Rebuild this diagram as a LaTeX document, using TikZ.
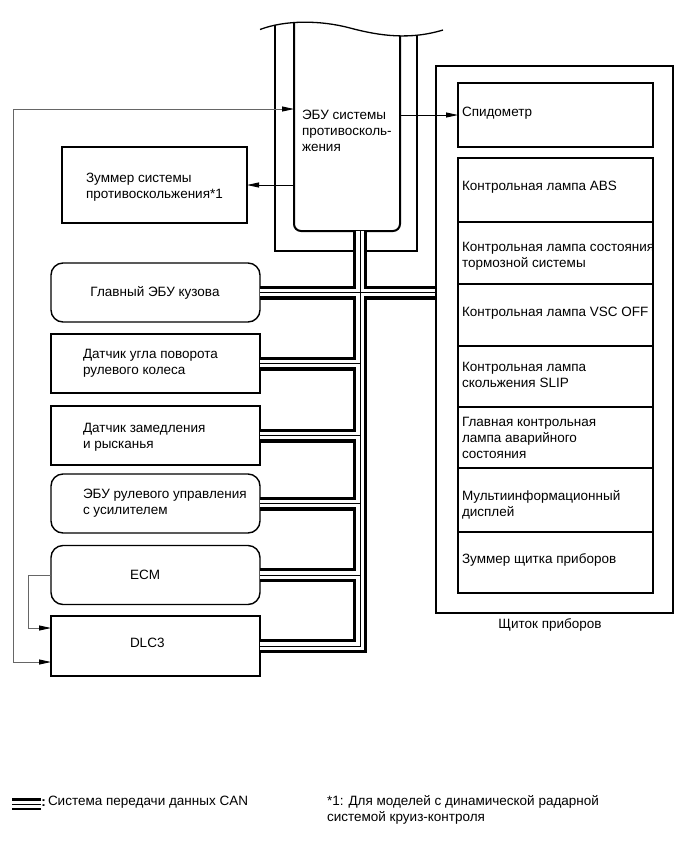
\documentclass[tikz,border=0pt]{standalone}
\usepackage{fontspec}
\setmainfont{Liberation Sans}
\usetikzlibrary{arrows.meta,calc}
\begin{document}
\begin{tikzpicture}[x=1pt,y=-1pt,
  every node/.style={inner sep=0pt, outer sep=0pt, font=\fontsize{13.5}{16}\selectfont},
  box/.style={draw, line width=1.4pt, minimum width=209pt, minimum height=59pt},
  rbox/.style={box, rounded corners=12pt},
  lamp/.style={draw, line width=1.3pt, minimum width=195pt},
  txt/.style={anchor=west, align=left},
  conn/.style={line width=0.9pt},
  tipk/.style={-{Triangle[length=12pt,width=5pt,color=black]}},
  tipboth/.style={{Triangle[length=12pt,width=5pt,color=black]}-{Triangle[length=12pt,width=5pt,color=black]}},
]
\useasboundingbox (0,0) rectangle (690,855);

% left boxes
\node[rbox] (gbody) at (155.5,292.5) {};
\node[box] (steer) at (155.5,363.5) {};
\node[box] (yaw) at (155.5,435.5) {};
\node[rbox] (eps) at (155.5,503.5) {};
\node[rbox] (ecm) at (155.5,575) {};
\node[box, minimum height=60pt] (dlc) at (155.5,646) {};
\node[box, minimum width=185pt, minimum height=76pt] (buzzer) at (154.5,185) {};

% cluster
\node[draw, line width=1.3pt, minimum width=237pt, minimum height=547pt] (cluster) at (554.5,339.5) {};
\node[lamp, minimum height=64pt] (speedo) at (555.5,115) {};
\node[lamp, minimum height=64pt] (l1) at (555.5,190) {};
\node[lamp, minimum height=62pt] (l2) at (555.5,253) {};
\node[lamp, minimum height=62pt] (l3) at (555.5,315) {};
\node[lamp, minimum height=61pt] (l4) at (555.5,376.5) {};
\node[lamp, minimum height=61pt] (l5) at (555.5,437.5) {};
\node[lamp, minimum height=64pt] (l6) at (555.5,500) {};
\node[lamp, minimum height=61pt] (l7) at (555.5,562.5) {};

% ECU
\node[minimum width=106pt, minimum height=191pt] (ecu) at (347,135.5) {};
\begin{scope}
  \clip (260,29.5) .. controls (285,20) and (320,20) .. (350,28) .. controls (380,36) and (410,40) .. (443,30) -- (443,300) -- (260,300) -- cycle;
  \draw[line width=2pt] (275,0) |- (417,251) -- (417,0);
  \draw[line width=2pt, rounded corners=7pt] (294,0) |- (400,231) -- (400,0);
\end{scope}
\draw[line width=1.3pt] (260,29.5) .. controls (285,20) and (320,20) .. (350,28) .. controls (380,36) and (410,40) .. (443,30);

% texts
\node[txt] (ecut) at (302,131) {ЭБУ системы\\противосколь-\\жения};
\node[txt] (buzt) at (86,187.5) {Зуммер системы\\противоскольжения*1};
\node[txt] (spt) at (462,113) {Спидометр};
\node[txt] (l1t) at (462,187) {Контрольная лампа ABS};
\node[txt] (l2t) at (462,256.5) {Контрольная лампа состояния\\тормозной системы};
\node[txt] (l3t) at (462,313) {Контрольная лампа VSC OFF};
\node[txt] (l4t) at (462,375) {Контрольная лампа\\скольжения SLIP};
\node[txt] (l5t) at (462,437.5) {Главная контрольная\\лампа аварийного\\состояния};
\node[txt] (l6t) at (462,505) {Мультиинформационный\\дисплей};
\node[txt] (l7t) at (462,560) {Зуммер щитка приборов};
\node (gbt) at (155,293) {Главный ЭБУ кузова};
\node[txt] (stt) at (83,363) {Датчик угла поворота\\рулевого колеса};
\node[txt] (yawt) at (83,437) {Датчик замедления\\и рысканья};
\node[txt] (epst) at (83,503) {ЭБУ рулевого управления\\с усилителем};
\node[txt] (ecmt) at (130,575) {ECM};
\node[txt] (dlct) at (130,643) {DLC3};
\node (clabel) at (550,625) {Щиток приборов};

% CAN bus
\coordinate (bt) at (360,231);
\def\canbus{(bt) -- (bt |- dlc.east) -- (dlc.east)
  (gbody.east) -- (cluster.west |- gbody.east)
  (steer.east) -- (bt |- steer.east)
  (yaw.east) -- (bt |- yaw.east)
  (eps.east) -- (bt |- eps.east)
  (ecm.east) -- (bt |- ecm.east)}
\draw[line width=14pt] \canbus;
\draw[line width=7.4pt, white] \canbus;
\draw[line width=0.9pt] \canbus;
\draw[line width=1.3pt] (cluster.north west) -- (cluster.south west);

% connectors
\draw[conn, black!60, tipboth] ([yshift=26.5pt]ecu.west) -- ++(-281,0) |- ([yshift=-16pt]dlc.west);
\draw[conn, tipk] (ecu.east |- speedo.west) -- (speedo.west);
\draw[conn, tipk] (ecu.west |- buzzer.east) -- (buzzer.east);
\draw[conn, black!60, tipk] (ecm.west) -- ++(-23,0) |- ([yshift=18pt]dlc.west);

% legend
\draw[line width=2.7pt] (12,799.5) -- (41,799.5);
\draw[line width=1pt] (12,804) -- (41,804);
\draw[line width=2.7pt] (12,809) -- (41,809);
\node[anchor=west] (colon) at (41.5,803) {\textbf{:}};
\node[txt] (leg1) at (48,802) {Система передачи данных CAN};
\node[txt] (leg2) at (327,810) {*1: Для моделей с динамической радарной\\системой круиз-контроля};
\end{tikzpicture}
\end{document}
